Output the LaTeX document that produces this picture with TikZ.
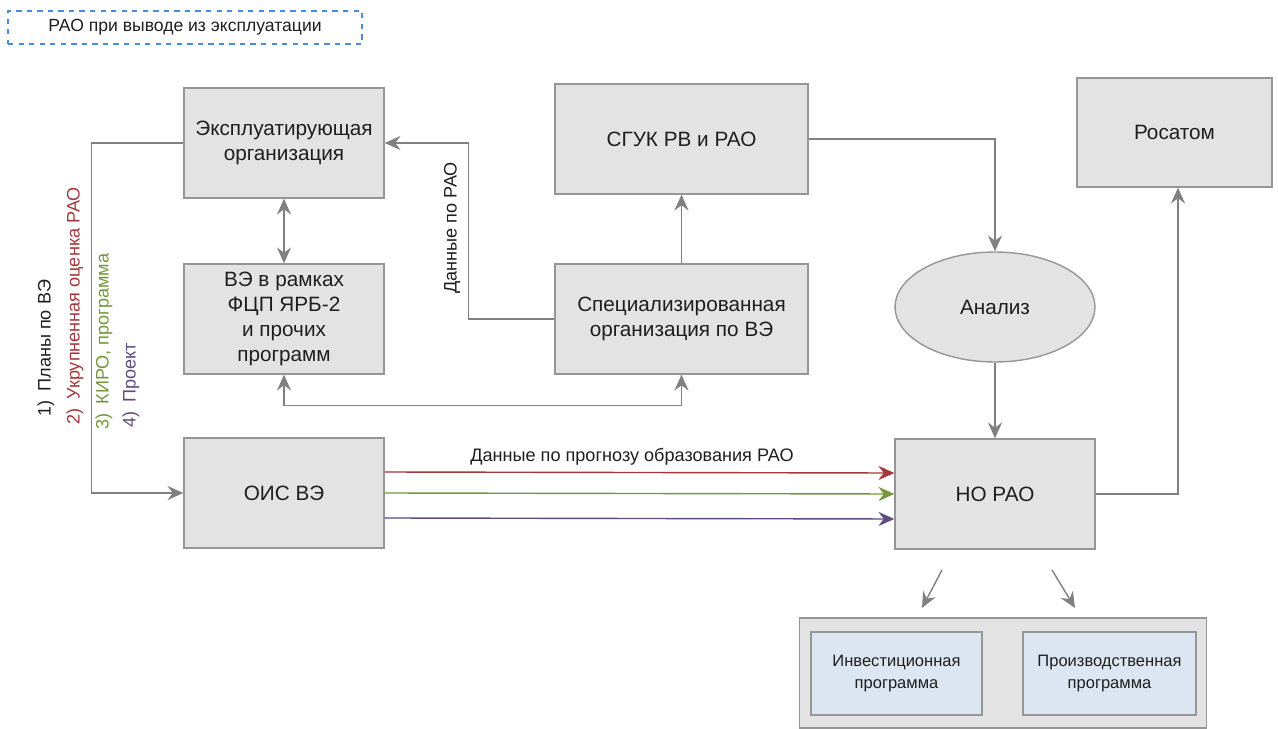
\documentclass[tikz,border=0pt]{standalone}
\usepackage{fontspec}
\setmainfont{Liberation Sans}
\usetikzlibrary{%
  arrows.meta,%
  shapes,%
  shapes.geometric,% wg. ellipse
  positioning,%
  calc%
}

\definecolor{boxgray}{RGB}{227,227,227}
\definecolor{edgegray}{RGB}{150,150,150}
\definecolor{arrowgray}{RGB}{128,128,128}
\definecolor{progblue}{RGB}{220,230,242}
\definecolor{dashblue}{RGB}{70,140,220}
\definecolor{raored}{RGB}{165,55,58}
\definecolor{raogreen}{RGB}{119,150,60}
\definecolor{raoviolet}{RGB}{96,74,130}
\definecolor{textgray}{RGB}{30,30,30}

\tikzset{
  orgbox/.style={rectangle, draw=edgegray, fill=boxgray, line width=0.8pt,
    minimum width=4cm, minimum height=2.2cm, align=center, font=\fontsize{11.8}{14.2}\selectfont},
  progbox/.style={rectangle, draw=edgegray, fill=progblue, line width=0.8pt,
    minimum width=3.42cm, minimum height=1.66cm, align=center, font=\fontsize{9.4}{12}\selectfont},
  flow/.style={->, draw=arrowgray, line width=0.8pt},
  sidelabel/.style={rotate=90, anchor=west, inner sep=0pt, font=\fontsize{10.3}{12}\selectfont}
}

\begin{document}
\begin{tikzpicture}
  [x=0.02cm, y=-0.02cm, text=textgray,
   >={Stealth[length=9pt, width=8pt, inset=3pt]}]

\useasboundingbox (0,0) rectangle (1278,729);

% header
\node[draw=dashblue, dashed, line width=0.8pt, minimum width=7.08cm, minimum height=0.66cm,
  font=\fontsize{10}{12}\selectfont] (title) at (185,27.5) {РАО при выводе из эксплуатации};

% left column
\node[orgbox] (expl) at (284,143) {Эксплуатирующая\\организация};
\node[orgbox] (ve) at (284,319) {ВЭ в рамках\\ФЦП ЯРБ-2\\и прочих\\программ};
\node[orgbox] (ois) at (284,493) {ОИС ВЭ};

% middle column
\node[orgbox, minimum width=5.06cm] (sguk) at (681.5,139) {СГУК РВ и РАО};
\node[orgbox, minimum width=5.06cm] (spec) at (681.5,319) {Специализированная\\организация по ВЭ};

% right column
\node[orgbox, minimum width=3.9cm, minimum height=2.18cm] (rosatom) at (1174.5,132.5) {Росатом};
\node[orgbox, ellipse, inner sep=0pt] (analiz) at (995,307) {Анализ};
\node[orgbox] (nora) at (995,494) {НО РАО};

% programmes
\node[orgbox, minimum width=8.14cm] (progs) at (1003,673) {};
\node[progbox] (invest) at (896.5,673.5) {Инвестиционная\\программа};
\node[progbox, minimum width=3.46cm] (proizv) at (1109.5,673.5) {Производственная\\программа};

% connectors
\draw[flow] (expl.west) -- ++(-92,0) |- (ois.west);
\draw[flow, <->] (expl) -- (ve);
\draw[flow] (spec.west) -- ++(-86,0) |- (expl.east);
\node[rotate=90, font=\fontsize{10.3}{12}\selectfont] (dataLbl) at (452,228) {Данные по РАО};
\draw[flow] (spec) -- (sguk);
\draw[flow, <->] (ve.south) -- ++(0,31) -| (spec.south);
\draw[flow] (sguk.east) -| (analiz.north);
\draw[flow] (analiz) -- (nora);
\draw[flow] (nora.east) -| ([xshift=0.07cm]rosatom.south);

% forecast data, one line per item
\foreach \dy/\col in {0.42/raored, 0/raogreen, -0.5/raoviolet}
  \draw[flow, draw=\col] ([yshift=\dy cm]ois.east) -- ([yshift=\dy cm]nora.west);
\node[font=\fontsize{10.3}{12}\selectfont] (fcLbl) at (632,457) {Данные по прогнозу образования РАО};

\coordinate (invFrom) at (942,570);
\coordinate (invTo) at (922,608);
\coordinate (prFrom) at (1052,570);
\coordinate (prTo) at (1075,608);
\draw[flow] (invFrom) -- (invTo);
\draw[flow] (prFrom) -- (prTo);

% item list
\node[sidelabel] (item1) at (46,417) {1)\enspace Планы по ВЭ};
\node[sidelabel, text=raored] (item2) at (75,425) {2)\enspace Укрупненная оценка РАО};
\node[sidelabel, text=raogreen] (item3) at (104,430) {3)\enspace КИРО, программа};
\node[sidelabel, text=raoviolet] (item4) at (131,428) {4)\enspace Проект};
\end{tikzpicture}
\end{document}
